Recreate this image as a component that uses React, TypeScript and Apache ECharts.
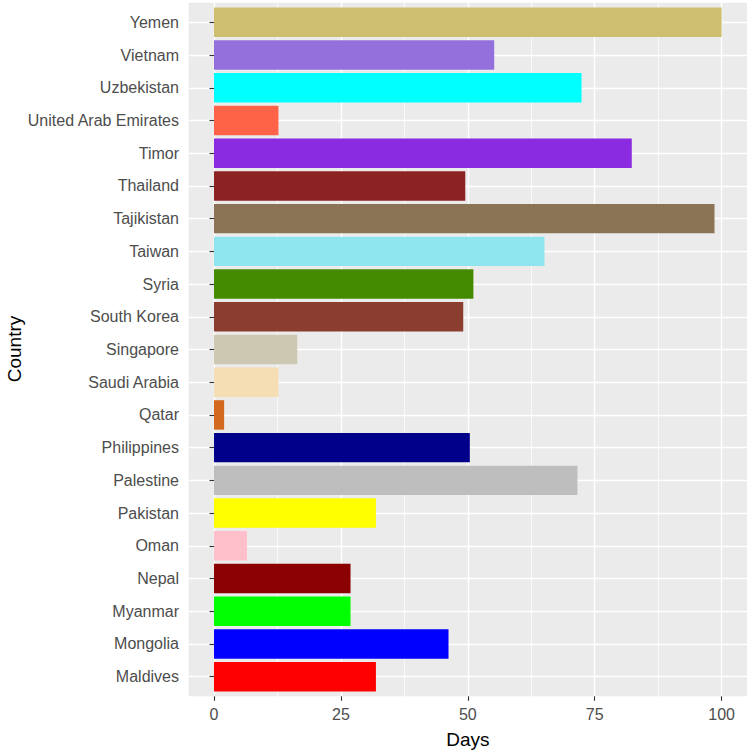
import React, { useEffect, useRef } from "react";
import * as echarts from "echarts";

const countries = [
  "Yemen", "Vietnam", "Uzbekistan", "United Arab Emirates", "Timor", "Thailand",
  "Tajikistan", "Taiwan", "Syria", "South Korea", "Singapore", "Saudi Arabia",
  "Qatar", "Philippines", "Palestine", "Pakistan", "Oman", "Nepal", "Myanmar",
  "Mongolia", "Maldives",
];
const days = [
  100, 55.2, 72.4, 12.7, 82.3, 49.5,
  98.6, 65.1, 51.1, 49.1, 16.4, 12.7,
  2.0, 50.4, 71.6, 31.9, 6.5, 26.9, 26.9,
  46.2, 31.9,
];
const colors = [
  "#CDBE70", "#9370DB", "#00FFFF", "#FF6347", "#8A2BE2", "#8B2323",
  "#8B7355", "#8EE5EE", "#458B00", "#8B3E2F", "#CDC8B1", "#F5DEB3",
  "#D2691E", "#00008B", "#BEBEBE", "#FFFF00", "#FFC0CB", "#8B0000", "#00FF00",
  "#0000FF", "#FF0000",
];
const xTicks = [0, 25, 50, 75, 100];

export default function App() {
  const ref = useRef<HTMLDivElement>(null);
  useEffect(() => {
    if (!ref.current) return;
    const chart = echarts.init(ref.current, undefined, { renderer: "svg" });
    const W = 749, H = 750;
    const panelL = 188.6, panelR = 747, panelT = 2.7, panelB = 696.3;
    const xMin = -5, xMax = 105;
    const s = (panelR - panelL) / (xMax - xMin);
    const x0 = panelL + (0 - xMin) * s;
    const x100 = panelL + (100 - xMin) * s;
    const step = (panelB - panelT) / (countries.length - 1 + 1.2);
    const firstC = panelT + 0.6 * step;
    const lastC = panelB - 0.6 * step;
    const font = "Liberation Sans, Arial, sans-serif";

    chart.setOption({
      animation: false,
      graphic: [
        { type: "rect", z: -10, shape: { x: panelL, y: panelT, width: panelR - panelL, height: panelB - panelT }, style: { fill: "#EBEBEB" } },
        { type: "text", x: (panelL + panelR) / 2, y: 739, style: { text: "Days", fontSize: 19, fontFamily: font, fill: "#000", align: "center", verticalAlign: "middle" } },
        { type: "text", x: 14, y: 349, rotation: Math.PI / 2, style: { text: "Country", fontSize: 19, fontFamily: font, fill: "#000", align: "center", verticalAlign: "middle" } },
      ],
      grid: [
        { left: x0, width: x100 - x0, top: panelT, height: panelB - panelT, containLabel: false },
        { left: panelL, width: panelR - panelL, top: firstC, height: lastC - firstC, containLabel: false },
      ],
      xAxis: [
        {
          type: "value", gridIndex: 0, min: xTicks[0], max: xTicks[xTicks.length - 1], interval: 25,
          axisLine: { show: false },
          axisTick: { show: true, length: 4.5, lineStyle: { color: "#333333", width: 1.1 } },
          axisLabel: { color: "#4D4D4D", fontSize: 16, fontFamily: font, margin: 10 },
          splitLine: { show: true, lineStyle: { color: "#FFFFFF", width: 1.4 } },
          minorTick: { show: false, splitNumber: 2 },
          minorSplitLine: { show: true, lineStyle: { color: "#FFFFFF", width: 0.7 } },
        },
        { type: "value", gridIndex: 1, min: xMin, max: xMax, show: false, splitLine: { show: false } },
      ],
      yAxis: [
        { type: "value", gridIndex: 0, min: 0, max: 1, show: false, splitLine: { show: false } },
        {
          type: "category", gridIndex: 1, data: countries, inverse: true, boundaryGap: false,
          axisLine: { show: false },
          axisTick: { show: true, interval: 0, length: 4.5, lineStyle: { color: "#333333", width: 1.1 } },
          axisLabel: { interval: 0, color: "#4D4D4D", fontSize: 16, fontFamily: font, margin: 9.6 },
          splitLine: { show: true, interval: 0, lineStyle: { color: "#FFFFFF", width: 1.4 } },
        },
      ],
      series: [
        {
          type: "bar", xAxisIndex: 1, yAxisIndex: 1, barWidth: step * 0.9,
          data: days.map((v, i) => ({ value: v, itemStyle: { color: colors[i] } })),
        },
      ],
    });
    return () => chart.dispose();
  }, []);
  return <div ref={ref} style={{ width: 749, height: 750, position: "absolute", left: 0, top: 0 }} />;
}
